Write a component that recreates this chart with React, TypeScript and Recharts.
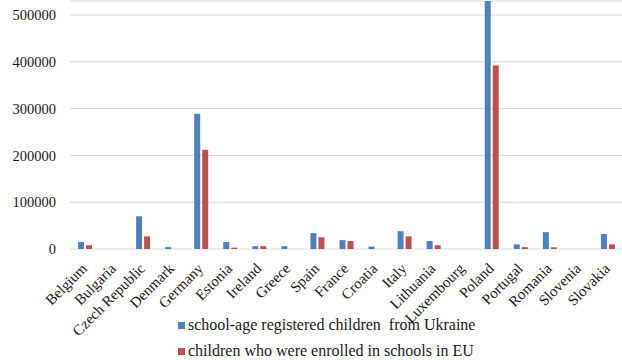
import React from 'react';
import { BarChart, Bar, XAxis, YAxis, CartesianGrid, Legend } from 'recharts';

const countries = [
    'Belgium', 'Bulgaria', 'Czech Republic', 'Denmark', 'Germany', 'Estonia', 'Ireland',
    'Greece', 'Spain', 'France', 'Croatia', 'Italy', 'Lithuania', 'Luxembourg', 'Poland',
    'Portugal', 'Romania', 'Slovenia', 'Slovakia',
];

const registered = [
    15000, 0, 70000, 4000, 289000, 15000, 6000, 6000, 34000, 19000, 5000, 38000, 17000, 0,
    530000, 10000, 36000, 0, 32000,
];

const enrolled = [
    8000, 0, 27000, 0, 212000, 3000, 6000, 0, 25000, 17000, 0, 27000, 8000, 0, 392000, 4000,
    3500, 0, 10000,
];

const yTicks = [0, 100000, 200000, 300000, 400000, 500000];

const SERIES = [
    { key: 'registered', name: 'school-age registered children  from Ukraine', color: '#4F81BD' },
    { key: 'enrolled', name: 'children who were enrolled in schools in EU', color: '#C0504D' },
];

const data = countries.map((country, i) => ({
    country,
    registered: registered[i],
    enrolled: enrolled[i],
}));

const FONT = 'Liberation Serif';

// rotated category labels, text end sits just right of the band centre
function RotatedTick({ x, y, payload }: any) {
    return (
        <g transform={`translate(${x - 4},${y + 5})`}>
            <text
                textAnchor="end"
                transform="rotate(-45)"
                dy="0.7em"
                style={{ fontFamily: FONT }}
                fontSize={15}
                fill="#1a1a1a"
            >
                {payload.value}
            </text>
        </g>
    );
}

function LegendRows() {
    return (
        <div style={{ fontFamily: FONT, fontSize: 16, color: '#1a1a1a', paddingLeft: 178 }}>
            {SERIES.map((s) => (
                <div key={s.key} style={{ display: 'flex', alignItems: 'center', height: 26, whiteSpace: 'pre' }}>
                    <span style={{ width: 7, height: 7, background: s.color, marginRight: 3, display: 'inline-block' }} />
                    <span>{s.name}</span>
                </div>
            ))}
        </div>
    );
}

export default function App() {
    return (
        <div style={{ position: 'absolute', left: 0, top: 0, background: '#fff', fontFamily: FONT }}>
            <BarChart
                width={622}
                height={360}
                data={data}
                margin={{ top: 1, right: 0, left: 0, bottom: 0 }}
                barSize={6}
                barGap={2}
                style={{ fontFamily: FONT }}
            >
                <CartesianGrid vertical={false} stroke="#d9d9d9" />
                <XAxis
                    dataKey="country"
                    interval={0}
                    tickLine={false}
                    axisLine={false}
                    height={63}
                    tick={<RotatedTick />}
                />
                <YAxis
                    domain={[0, 530000]}
                    ticks={yTicks}
                    width={70}
                    tickLine={false}
                    axisLine={false}
                    tickMargin={8}
                    tick={{ fontFamily: FONT, fontSize: 14.5, fill: '#1a1a1a' }}
                />
                <Legend verticalAlign="bottom" height={48} content={<LegendRows />} />
                {SERIES.map((s) => (
                    <Bar key={s.key} dataKey={s.key} name={s.name} fill={s.color} isAnimationActive={false} />
                ))}
            </BarChart>
        </div>
    );
}
